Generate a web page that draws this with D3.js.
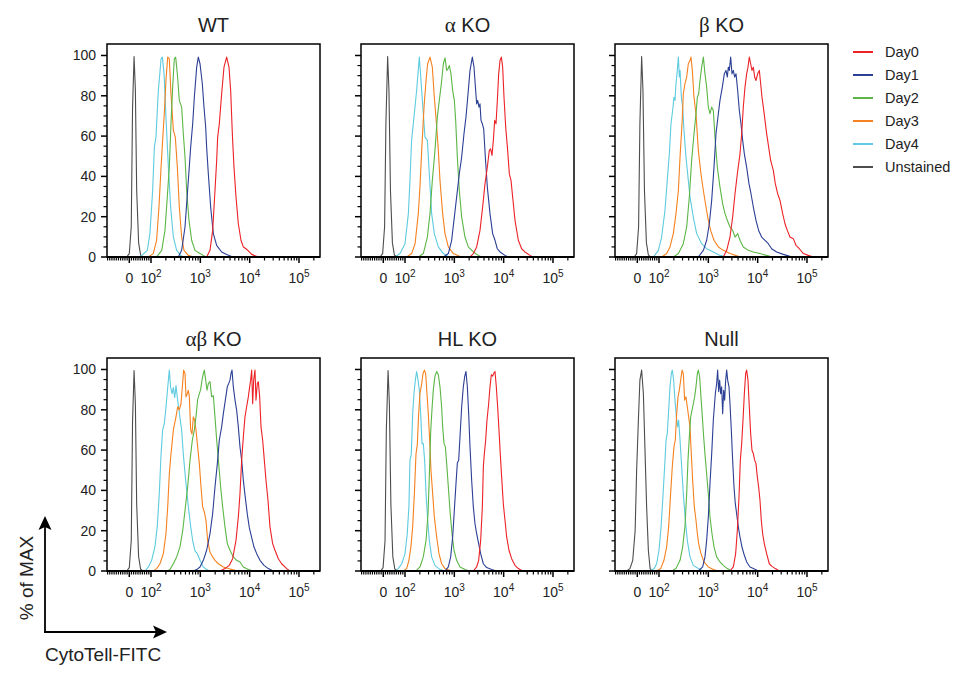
<!DOCTYPE html>
<html>
<head>
<meta charset="utf-8">
<script src="https://cdn.jsdelivr.net/npm/d3@7"></script>
<style>
  body { margin: 0; background: #fff; }
  svg { display: block; font-family: "Liberation Sans", Arial, Helvetica, sans-serif; }
</style>
</head>
<body>
<svg id="chart" width="967" height="673"></svg>
<script>
// series names, colours and panel titles
var days = ["Day0", "Day1", "Day2", "Day3", "Day4", "Unstained"];
var dayColors = ["#ec2227", "#2b3f95", "#5cb646", "#f5811f", "#5ecbdf", "#4d4d4d"];
var panels = ["WT", "α KO", "β KO", "αβ KO", "HL KO", "Null"];
var yTicks = [0, 20, 40, 60, 80, 100];
var xMajor = [0, 100, 1000, 10000, 100000];
var xLabels = [["0", ""], ["10", "2"], ["10", "3"], ["10", "4"], ["10", "5"]];

// ---- WT ----
var wtDay0X = [1343,1570,1778,1982,2145,2246,2427,2706,3017,3417,3813,4121,4456,4812,5284,5893,6675,7440,8430,9400,10990,13870,16200];
var wtDay0Y = [0,3.3,13.2,33,47.9,59.5,66.1,81,94.2,99.2,94.2,82.6,61.2,44.6,29.8,16.5,8.3,5,4.1,3,1.3,0.3,0];
var wtDay1X = [358,418,489,571,637,700,756,843,911,985,1098,1186,1283,1343,1452,1620,1834,2145,2706,3417,4315];
var wtDay1Y = [0,3.3,14.9,38,54.5,66.1,79.3,94.2,99.2,95.9,86,74.4,64.5,54.5,41.3,24.8,11.6,5.8,2.5,1.2,0.3];
var wtDay2X = [130,165,192,214,235,254,275,297,316,342,375,418,452,489,528,589,667,780,985,1245];
var wtDay2Y = [0,3.3,13.2,29.8,44.6,66.1,84.3,98.3,99.2,90.9,77.7,74.4,61.2,49.6,33,18.2,8.3,3.3,1.7,0.3];
var wtDay3X = [88,111,130,145,160,172,186,201,218,235,254,284,311,342,375,418,467,571,722];
var wtDay3Y = [0,1.7,8.3,24.8,44.6,57.9,71.1,87.6,99.2,98.3,81,62.8,59.5,44.6,24.8,9.9,3.3,0.8,0];
var wtDay4X = [49,83,95,108,117,126,141,160,170,184,201,225,250,284,331,399,467];
var wtDay4Y = [0,3.3,11.6,33,54.5,59.5,82.6,98.3,99.2,90.9,69.4,44.6,24.8,9.9,3.3,0.8,0];
var wtUnstX = [-12,0,9,15,22,28,34,43,52,62];
var wtUnstY = [0,1.7,15,74,99.5,83,33,7,1,0];

// ---- alpha KO ----
var akoDay0X = [2080,2427,2836,3313,3750,4188,4667,5120,5445,5807,6180,6577,7000,7447,7925,8433,8975,9550,10165,10990,12050,13030,14090,15220,16980,19820,23170,27040,34180,39910];
var akoDay0Y = [0,1.7,5,13.2,24.8,36.4,44.6,52.9,53.7,50.4,57.9,67.8,66.1,77.7,90.9,97.5,99.2,94.2,79.3,64.5,52.9,41.3,38,29.8,18.2,8.3,4.1,2.5,0.8,0];
var akoDay1X = [599,756,883,1000,1114,1262,1409,1570,1722,1922,2080,2317,2505,2706,2836,2972,3162,3313,3475,3698,3936,4250,4667,5284,5983,6675,7440,8430,10640,12440];
var akoDay1Y = [0,1.7,8.3,19.8,29.8,41.3,49.6,61.2,69.4,82.6,92.6,99.2,94.2,82.6,76,77.7,74.4,76,67.8,66.1,63.6,49.6,34.7,21.5,11.6,8.3,4.1,2.5,0.8,0];
var akoDay2X = [186,235,284,321,358,405,452,496,545,599,647,700,745,793,855,925,1000,1064,1151,1262,1409,1644,1922,2427,3062,3580];
var akoDay2Y = [0,1.7,9.9,21.5,38,52.9,69.4,77.7,86,95.9,98.8,92.6,93.4,95,90.9,82.6,77.7,67.8,49.6,33,19.8,9.9,5,2.5,0.8,0];
var akoDay3X = [108,136,160,186,201,218,243,267,288,321,358,393,439,474,512,580,647,756,955,1303,1521];
var akoDay3Y = [0,1.7,6.6,21.5,34.7,52.9,74.4,87.6,95.9,99.2,94.2,79.3,64.5,52.9,38,21.5,11.6,5,1.7,0.3,0];
var akoDay4X = [54,77,100,117,126,136,152,172,195,218,254,284,311,347,393,474,599,756];
var akoDay4Y = [0,1.7,6.6,21.5,38,57.9,69.4,82.6,99.2,82.6,59.5,57.9,41.3,21.5,11.6,5,1.7,0.3];
var akoUnstX = [-15,-3,6,12,20,26,33,42,51,62];
var akoUnstY = [0,1.7,15,66,99.5,83,33,7,1,0];

// ---- beta KO ----
var bkoDay0X = [2014,2355,2748,3112,3475,3874,4385,4744,5120,5533,5983,6365,6772,7210,7674,8166,8690,9250,10000,10810,11510,12250,13030,14090,15220,16710,18350,20800,22800,25420,28360,32130,35800,39910,45190,52840,59840,69980,84330,106400,134300];
var bkoDay0Y = [0,3.3,9.9,19.8,31.4,41.3,51.2,61.2,74.4,84.3,90.9,94.2,99.2,95.9,92.6,94.2,89.3,87.6,90.9,92.6,86,79.3,74.4,67.8,61.2,54.5,47.9,42.9,36.4,31.4,28.1,21.5,16.5,13.2,9.9,9.1,5.8,4.1,1.7,0.8,0];
var bkoDay1X = [627,793,925,1047,1169,1303,1430,1596,1722,1922,2109,2280,2427,2543,2667,2836,3017,3213,3420,3640,3936,4250,4590,4966,5370,5980,6670,7330,8170,9250,10470,12050,14090,16440,19220,24270,33110,45190,57130];
var bkoDay1Y = [0,3.3,8.3,16.5,28.1,44.6,61.2,71.1,77.7,84.3,90.9,92.6,89.3,94.2,92.6,99.2,90.9,92.6,89.3,90.9,82.6,72.7,66.1,57.9,51.2,44.6,36.4,31.4,24.8,18.2,13.2,9.9,8.3,6.6,4.1,2.5,1.3,0.3,0];
var bkoDay2X = [195,247,311,364,412,459,512,562,599,637,678,733,793,855,925,1000,1081,1169,1262,1365,1521,1722,1954,2178,2427,2748,3112,3475,3936,4385,5117,6471,8166,11150,17780,22440];
var bkoDay2Y = [0,1.7,6.6,14.9,29.8,47.9,61.2,71.1,79.3,81,87.6,94.2,99.2,90.9,84.3,74.4,71.1,74.4,72.7,59.5,44.6,34.7,26.4,21.5,18.2,14.9,13.2,9.9,11.6,8.3,5,3.3,2.5,1.7,0.3,0];
var bkoDay3X = [113,143,167,195,221,247,267,293,311,336,364,393,425,445,474,512,562,627,709,793,897,1000,1114,1303,1596,2014,2748,4053,5117];
var bkoDay3Y = [0,1.7,5,11.6,21.5,33,49.6,66.1,81,86,89.3,95.9,97.5,99.2,92.6,79.3,71.1,52.9,41.3,33,24.8,18.2,13.2,8.3,5,3.3,1.7,0.3,0];
var bkoDay4X = [74,97,113,132,147,162,175,189,201,211,221,235,247,258,267,284,302,321,352,393,425,496,580,733,925,1262,1722,2355];
var bkoDay4Y = [0,3.3,9.9,23.1,38,51.2,66.1,72.7,79.3,77.7,86,92.6,99.2,89.3,92.6,79.3,74.4,62.8,49.6,38,29.8,19.8,11.6,6.6,4.1,2.5,0.8,0];
var bkoUnstX = [-14,-3,6,12,20,26,33,42,51,60];
var bkoUnstY = [0,1.7,15,66,99.5,83,33,7,1,0];

// ---- alpha beta KO ----
var abkoDay0X = [2505,3162,3872,4518,5284,5893,6368,6887,7447,8043,8690,9400,10000,10470,10990,11510,12050,12820,13430,14290,14990,15960,16980,18360,19820,21430,23550,25820,29240,32660,38100,44560,56230,65770];
var abkoDay0Y = [0,1.2,2.8,6.1,15.2,26.8,38.4,55,66.6,76.5,81.5,86.4,91.4,94.7,99.7,83,94.7,99.7,84.8,93,93.9,86.4,71.5,64.9,55,45,35,21.9,13.6,10.3,6.1,3.6,1.2,0];
var abkoDay1X = [721,843,985,1151,1343,1570,1778,1982,2213,2427,2706,2924,3213,3524,3750,3990,4188,4385,4667,5046,5445,5893,6368,6887,7447,8166,8975,9840,10990,12250,13870,16200,19540,23880,30200];
var abkoDay1Y = [0,0.7,2,5.3,10.3,18.5,28.5,41.7,53.3,65,71.5,78,84.8,91.4,93,94.7,98,99.7,91.4,84.8,79.8,71.5,61.6,55,45,36.4,28.1,21.5,16.6,11.9,8.6,5.3,2.8,1.2,0];
var abkoDay2X = [208,243,284,331,387,439,489,553,618,689,756,816,883,955,1016,1081,1151,1205,1283,1365,1452,1570,1698,1836,1982,2145,2355,2582,2836,3162,3524,3990,4667,5445,6368,7447,9400,11850];
var abkoDay2Y = [0,0.8,3.6,7,12,20,30,41.7,55,65,70,76.5,85,88,90,94.7,98,99.7,94.7,89.7,93,94,86.4,87,76.5,65,53.3,41.7,31.8,21.9,13.6,10.3,7,5.3,4.5,2,0.7,0];
var abkoDay3X = [111,130,152,178,201,218,235,254,284,321,347,375,405,432,459,489,512,545,571,599,637,678,721,767,816,883,955,1033,1114,1205,1303,1409,1570,1778,1982,2317,2924,3698,5046,6368];
var abkoDay3Y = [0,1.2,3.6,8.6,18.5,31.8,48,58,70,76.5,81.5,80,83,91.4,99.7,98,86.4,88,89.7,86.4,70,68,76.5,74.8,70,61.6,53.3,41.7,31.8,29.3,25,15,9.4,7,5.3,3.6,2,1.2,0.3,0];
var abkoDay4X = [72,88,103,120,134,147,160,172,186,201,218,235,250,267,284,302,321,342,364,387,418,452,504,571,637,700,780,869,985,1151,1343,1570];
var abkoDay4Y = [0,2,5.3,12,22,38,58,70,73,81,91,99.7,91,88,91,86,92,86,81,76,70,58,45,32,22,15,10,8.6,5.3,2,0.7,0];
var abkoUnstX = [-12,0,9,15,22,28,34,43,52,62];
var abkoUnstY = [0,1.7,15,74,99.5,83,33,7,1,0];

// ---- HL KO ----
var hlDay0X = [2427,2836,3112,3420,3698,3872,4054,4315,4590,4966,5284,5623,5983,6368,6675,7100,7550,8043,8550,9100,9840,10640,11510,12820,14520,16980,19820,24270];
var hlDay0Y = [0,2,5.3,15.2,31.8,51.7,58,64.9,74.8,83,91.4,97.4,96.7,98.3,99,91.4,81.5,70,58,46.7,33.4,25.2,16.9,10.3,6.1,2.8,1.2,0];
var hlDay1X = [647,756,843,925,1000,1081,1151,1225,1303,1409,1521,1620,1722,1836,1954,2080,2246,2427,2624,2836,3112,3420,3872,4518,5715,7210];
var hlDay1Y = [0,2,7,16.9,30.1,43.4,53.6,55,66.6,81.5,91.4,96.4,99,91.4,78,61.6,45,31.8,23.5,18.5,13.6,8.6,3.6,1.7,0.7,0];
var hlDay2X = [167,201,235,267,293,311,331,352,375,405,439,474,512,553,580,618,658,700,756,816,897,985,1114,1303,1644,2080];
var hlDay2Y = [0,2,7,15.2,28.5,46.7,68.5,80,90,96.7,99,97.4,91.4,81.5,71.5,63.2,61.6,53.3,41.7,30.1,18.5,10.3,5.3,2,0.7,0];
var hlDay3X = [92,108,120,132,143,155,167,178,189,201,218,232,247,262,279,297,316,336,364,393,439,489,553,647,816,1033];
var hlDay3Y = [0,1.2,5.3,12,21.9,38.4,58,63,78,88,93,98,99.7,98,88,78,64.9,50,38.4,26.8,16.9,8.6,3.6,1.2,0.3,0];
var hlDay4X = [54,69,85,100,111,120,126,134,143,152,162,172,184,195,208,221,235,250,267,288,311,347,405,512,647];
var hlDay4Y = [0,1.2,3.6,8.6,18.5,31.8,55,58,78,88,94.7,99,94.7,89.7,78,63.2,63.2,55,38.4,25.2,15.2,7,2.8,0.7,0];
var hlUnstX = [-12,-1,8,14,22,28,35,44,53,64];
var hlUnstY = [0,1.7,15,70,99.5,83,33,7,1,0];

// ---- Null ----
var nullDay0X = [2748,3213,3580,3872,4188,4456,4744,5046,5370,5715,5983,6368,6772,7210,7674,8166,8690,9250,9840,10470,11150,11850,12620,13650,15220,17220,19540,22800,27480];
var nullDay0Y = [0,2,8.6,20.2,36.8,55,63.2,74.8,88,98,99.7,94.7,81.5,68.2,59.9,58.3,55,53.3,46.7,41.7,35.1,25.2,18.5,13.6,8.6,3.6,2.3,1.2,0];
var nullDay1X = [627,767,855,925,1000,1081,1169,1262,1324,1387,1475,1545,1620,1698,1778,1862,1954,2046,2143,2246,2355,2467,2624,2748,2924,3112,3313,3524,3750,4054,4385,4808,5370,5983,7000,8166,10330];
var nullDay1Y = [0,2,7,15.2,26.8,43.4,58,74.8,81.5,88,93,99.7,89,94.7,88,91.4,78,89.7,84.8,94.7,99.7,94.7,91.4,83,70,55,41.7,33.4,28.5,21.9,16.9,11.9,7.8,4.5,2,1.2,0];
var nullDay2X = [181,221,267,302,336,364,387,412,439,467,496,528,562,599,627,667,709,756,804,855,925,1000,1081,1186,1303,1475,1722,2014,2427,2972];
var nullDay2Y = [0,1.2,5.3,12,22,38.4,55,66.6,76.5,79.8,83,86.4,91.4,98,99.7,96.4,86.4,76.5,66.6,58,48,38.4,26.8,18.5,12,7,4.5,2.8,1.2,0];
var nullDay3X = [89,108,126,143,157,172,186,201,214,228,243,258,275,293,311,331,352,375,399,425,452,481,520,562,599,637,709,816,1000,1262,1596];
var nullDay3Y = [0,1.2,5.3,12,22,38.4,51.7,61.6,65,78,86.4,89.7,94.7,99.7,98,84.8,86.4,81.5,76.5,71.5,58,45,31.8,25.2,18.5,13.6,8.6,4.5,2,0.7,0];
var nullDay4X = [59,78,89,100,110,119,130,139,147,157,167,178,186,198,211,225,239,250,267,288,311,342,375,425,496,627,793];
var nullDay4Y = [0,1.2,3.6,10.3,21.9,35.1,51.7,64.9,68.2,79.8,91.4,98,99.7,94.7,84.8,76.5,71.5,74.8,64.9,51.7,38.4,25.2,15.2,7,2.8,1.2,0];
var nullUnstX = [-49,-34,-21,-10,-3,5,12,20,28,35,43,51,59,68];
var nullUnstY = [0,1.2,5.3,20,50,74.8,94.7,99.7,88,61.6,31.8,10.3,1.2,0];

// one row per panel, series in the order of `days`
var panelSeries = [
  [[wtDay0X, wtDay0Y], [wtDay1X, wtDay1Y], [wtDay2X, wtDay2Y], [wtDay3X, wtDay3Y], [wtDay4X, wtDay4Y], [wtUnstX, wtUnstY]],
  [[akoDay0X, akoDay0Y], [akoDay1X, akoDay1Y], [akoDay2X, akoDay2Y], [akoDay3X, akoDay3Y], [akoDay4X, akoDay4Y], [akoUnstX, akoUnstY]],
  [[bkoDay0X, bkoDay0Y], [bkoDay1X, bkoDay1Y], [bkoDay2X, bkoDay2Y], [bkoDay3X, bkoDay3Y], [bkoDay4X, bkoDay4Y], [bkoUnstX, bkoUnstY]],
  [[abkoDay0X, abkoDay0Y], [abkoDay1X, abkoDay1Y], [abkoDay2X, abkoDay2Y], [abkoDay3X, abkoDay3Y], [abkoDay4X, abkoDay4Y], [abkoUnstX, abkoUnstY]],
  [[hlDay0X, hlDay0Y], [hlDay1X, hlDay1Y], [hlDay2X, hlDay2Y], [hlDay3X, hlDay3Y], [hlDay4X, hlDay4Y], [hlUnstX, hlUnstY]],
  [[nullDay0X, nullDay0Y], [nullDay1X, nullDay1Y], [nullDay2X, nullDay2Y], [nullDay3X, nullDay3Y], [nullDay4X, nullDay4Y], [nullUnstX, nullUnstY]]
];

var svg = d3.select("#chart");
var panelW = 213, panelH = 213;
var panelLeft = [107, 361, 615], panelTop = [44, 358];

// biexponential-like display: linear around zero, log above 100
function logicle(v) {
  return v >= 100 ? Math.log10(v) : 2 + (v - 100) * 0.0044;
}
var x = d3.scaleLinear().domain([1.108, 5.426]).range([0, panelW]);
var y = d3.scaleLinear().domain([0, 105.7]).range([panelH, 0]);

var xMinor = [];
for (var v = -100; v < 100; v += 10) if (v !== 0) xMinor.push(v);
[100, 1000, 10000, 100000].forEach(function(dec) {
  for (var k = 2; k <= 9; k++) if (logicle(dec * k) <= 5.426) xMinor.push(dec * k);
});
var yMinor = d3.range(0, 101, 5).filter(function(d) { return d % 20 !== 0; });

var line = d3.line()
  .x(function(d) { return x(logicle(d[0])); })
  .y(function(d) { return y(d[1]); });

svg.append("defs").append("clipPath").attr("id", "plotclip")
  .append("rect").attr("width", panelW).attr("height", panelH);

panels.forEach(function(name, i) {
  var col = i % 3, row = Math.floor(i / 3);
  var g = svg.append("g")
    .attr("transform", "translate(" + panelLeft[col] + "," + panelTop[row] + ")");

  // title, greek letters set in a serif face
  var title = g.append("text")
    .attr("x", panelW / 2).attr("y", -12)
    .attr("text-anchor", "middle")
    .style("font-size", "20px").style("fill", "#222");
  name.split(/([αβ]+)/).forEach(function(part) {
    if (!part) return;
    var t = title.append("tspan").text(part);
    if (/[αβ]/.test(part)) t.style("font-family", "'Liberation Serif', 'DejaVu Serif', serif").style("font-size", "21px");
  });

  // curves: unstained first, Day0 last
  var plot = g.append("g").attr("clip-path", "url(#plotclip)");
  for (var s = days.length - 1; s >= 0; s--) {
    var xs = panelSeries[i][s][0], ys = panelSeries[i][s][1];
    var pts = xs.map(function(xv, j) { return [xv, ys[j]]; });
    plot.append("path")
      .datum(pts)
      .attr("d", line)
      .attr("fill", "none")
      .attr("stroke", dayColors[s])
      .attr("stroke-width", 1.1)
      .attr("stroke-linejoin", "round");
  }

  // frame
  g.append("rect")
    .attr("width", panelW).attr("height", panelH)
    .attr("fill", "none").attr("stroke", "#000").attr("stroke-width", 1.5);
  g.append("line")
    .attr("x1", 0).attr("x2", panelW).attr("y1", panelH).attr("y2", panelH)
    .attr("stroke", "#000").attr("stroke-width", 2);

  // x ticks
  g.selectAll(".xminor").data(xMinor).enter().append("line")
    .attr("x1", function(d) { return x(logicle(d)); })
    .attr("x2", function(d) { return x(logicle(d)); })
    .attr("y1", panelH).attr("y2", panelH + 3.5)
    .attr("stroke", "#000").attr("stroke-width", 1.2);
  g.selectAll(".xmajor").data(xMajor).enter().append("line")
    .attr("x1", function(d) { return x(logicle(d)); })
    .attr("x2", function(d) { return x(logicle(d)); })
    .attr("y1", panelH).attr("y2", panelH + 6)
    .attr("stroke", "#000").attr("stroke-width", 1.5);
  xMajor.forEach(function(d, k) {
    var t = g.append("text")
      .attr("x", x(logicle(d))).attr("y", panelH + 26)
      .attr("text-anchor", "middle")
      .style("font-size", "14px").style("fill", "#222");
    t.append("tspan").text(xLabels[k][0]);
    if (xLabels[k][1]) t.append("tspan").attr("dy", -6).style("font-size", "10px").text(xLabels[k][1]);
  });

  // y ticks
  g.selectAll(".yminor").data(yMinor).enter().append("line")
    .attr("x1", 0).attr("x2", -3.5)
    .attr("y1", function(d) { return y(d); }).attr("y2", function(d) { return y(d); })
    .attr("stroke", "#000").attr("stroke-width", 1.2);
  g.selectAll(".ymajor").data(yTicks).enter().append("line")
    .attr("x1", 0).attr("x2", -6)
    .attr("y1", function(d) { return y(d); }).attr("y2", function(d) { return y(d); })
    .attr("stroke", "#000").attr("stroke-width", 1.5);
  if (col === 0) {
    g.selectAll(".ylab").data(yTicks).enter().append("text")
      .attr("x", -11).attr("y", function(d) { return y(d) + 5; })
      .attr("text-anchor", "end")
      .style("font-size", "14px").style("fill", "#222")
      .text(function(d) { return d; });
  }
});

// legend
var legend = svg.append("g").attr("transform", "translate(853,52)");
days.forEach(function(d, i) {
  legend.append("line")
    .attr("x1", 0).attr("x2", 20).attr("y1", i * 23).attr("y2", i * 23)
    .attr("stroke", dayColors[i]).attr("stroke-width", 2);
  legend.append("text")
    .attr("x", 32).attr("y", i * 23 + 5)
    .style("font-size", "14.5px").style("fill", "#222")
    .text(d);
});

// axis annotation arrows
svg.append("line").attr("x1", 45).attr("y1", 632).attr("x2", 45).attr("y2", 524)
  .attr("stroke", "#000").attr("stroke-width", 1.8);
svg.append("path").attr("d", "M45,516 L51.5,530 L45,527 L38.5,530 Z").attr("fill", "#000");
svg.append("line").attr("x1", 44).attr("y1", 632).attr("x2", 158).attr("y2", 632)
  .attr("stroke", "#000").attr("stroke-width", 1.8);
svg.append("path").attr("d", "M167,632 L153,625.5 L156,632 L153,638.5 Z").attr("fill", "#000");

svg.append("text")
  .attr("transform", "translate(33,578) rotate(-90)")
  .attr("text-anchor", "middle")
  .style("font-size", "19px").style("fill", "#222")
  .text("% of MAX");
svg.append("text")
  .attr("x", 45).attr("y", 661)
  .style("font-size", "19px").style("fill", "#222")
  .text("CytoTell-FITC");
</script>
</body>
</html>
